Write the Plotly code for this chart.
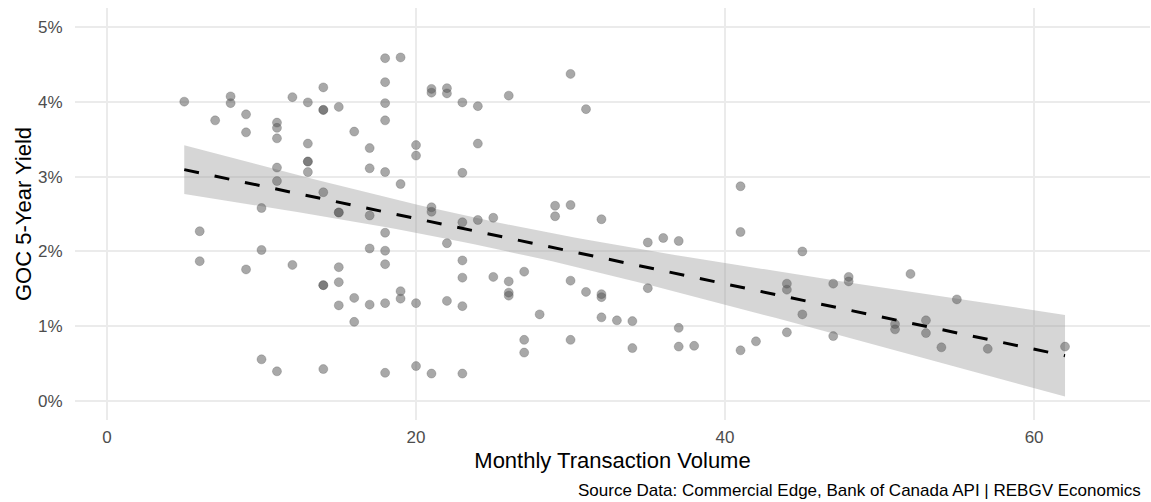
import numpy as np
import plotly.graph_objects as go

# Monthly transaction volume (x) and GOC 5-year yield in percent (y)
volume = [
    5,
    6, 6,
    7,
    8, 8,
    9, 9, 9,
    10, 10, 10,
    11, 11, 11, 11, 11, 11,
    12, 12,
    13, 13, 13, 13, 13,
    14, 14, 14, 14, 14, 14, 14,
    15, 15, 15, 15, 15, 15,
    16, 16, 16,
    17, 17, 17, 17, 17,
    18, 18, 18, 18, 18, 18, 18, 18, 18, 18,
    19, 19, 19, 19,
    20, 20, 20, 20,
    21, 21, 21, 21, 21,
    22, 22, 22, 22,
    23, 23, 23, 23, 23, 23, 23,
    24, 24, 24,
    25, 25,
    26, 26, 26, 26,
    27, 27, 27,
    28,
    29, 29,
    30, 30, 30, 30,
    31, 31,
    32, 32, 32, 32,
    33,
    34, 34,
    35, 35,
    36,
    37, 37, 37,
    38,
    41, 41, 41,
    42,
    44, 44, 44,
    45, 45,
    47, 47,
    48, 48,
    51, 51,
    52,
    53, 53,
    54,
    55,
    57,
    62,
]
yield_pct = [
    4.00,
    2.27, 1.87,
    3.75,
    4.07, 3.98,
    3.83, 3.59, 1.76,
    2.58, 2.02, 0.56,
    3.72, 3.65, 3.51, 3.12, 2.94, 0.40,
    4.06, 1.82,
    3.99, 3.44, 3.20, 3.20, 3.06,
    4.19, 3.89, 3.89, 2.79, 1.55, 1.55, 0.43,
    3.93, 2.52, 2.52, 1.79, 1.59, 1.28,
    3.60, 1.38, 1.06,
    3.38, 3.11, 2.48, 2.04, 1.29,
    4.58, 4.26, 3.98, 3.75, 3.06, 2.25, 2.01, 1.83, 1.31, 0.38,
    4.59, 2.90, 1.47, 1.37,
    3.42, 3.28, 1.31, 0.47,
    4.17, 4.12, 2.59, 2.53, 0.37,
    4.18, 4.11, 2.11, 1.34,
    3.99, 3.05, 2.39, 1.88, 1.65, 1.27, 0.37,
    3.94, 3.44, 2.42,
    2.45, 1.66,
    4.08, 1.60, 1.45, 1.41,
    1.73, 0.82, 0.65,
    1.16,
    2.61, 2.47,
    4.37, 2.62, 1.61, 0.82,
    3.90, 1.46,
    2.43, 1.43, 1.39, 1.12,
    1.08,
    1.07, 0.71,
    2.12, 1.51,
    2.18,
    2.14, 0.98, 0.73,
    0.74,
    2.87, 2.26, 0.68,
    0.80,
    1.57, 1.49, 0.92,
    2.00, 1.16,
    1.57, 0.87,
    1.66, 1.60,
    1.03, 0.96,
    1.70,
    1.08, 0.91,
    0.72,
    1.36,
    0.70,
    0.73,
]

x_ticks = [0, 20, 40, 60]
y_ticks = [0, 1, 2, 3, 4, 5]
y_tick_labels = ["0%", "1%", "2%", "3%", "4%", "5%"]

x_title = "Monthly Transaction Volume"
y_title = "GOC 5-Year Yield"
caption = "Source Data: Commercial Edge, Bank of Canada API | REBGV Economics"

# Ordinary least squares fit with a 95% confidence band
x = np.asarray(volume, dtype=float)
y = np.asarray(yield_pct, dtype=float)
n = len(x)
slope, intercept = np.polyfit(x, y, 1)
resid = y - (intercept + slope * x)
s = np.sqrt(np.sum(resid ** 2) / (n - 2))
sxx = np.sum((x - x.mean()) ** 2)
t_crit = 1.977  # two-sided 95% t quantile for ~140 degrees of freedom
xf = np.linspace(x.min(), x.max(), 80)
yf = intercept + slope * xf
se = s * np.sqrt(1.0 / n + (xf - x.mean()) ** 2 / sxx)
upper = yf + t_crit * se
lower = yf - t_crit * se

FONT = "Liberation Sans, Arial, sans-serif"
GRID = "#ebebeb"

fig = go.Figure()

fig.add_trace(go.Scatter(
    x=list(xf) + list(xf[::-1]),
    y=list(upper) + list(lower[::-1]),
    fill="toself",
    fillcolor="rgba(153,153,153,0.4)",
    line=dict(width=0),
    mode="lines",
    hoverinfo="skip",
    showlegend=False,
))

fig.add_trace(go.Scatter(
    x=volume,
    y=yield_pct,
    mode="markers",
    marker=dict(
        size=9,
        color="rgba(82,82,82,0.5)",
        line=dict(color="rgba(82,82,82,0.35)", width=0.8),
    ),
    showlegend=False,
))

fig.add_trace(go.Scatter(
    x=xf,
    y=yf,
    mode="lines",
    line=dict(color="black", width=3, dash="15px,16px"),
    showlegend=False,
))

fig.update_layout(
    width=1151,
    height=502,
    margin=dict(l=75, r=1, t=8, b=82),
    paper_bgcolor="white",
    plot_bgcolor="white",
    font=dict(family=FONT, color="#4d4d4d", size=17),
    showlegend=False,
    xaxis=dict(
        range=[-2.07, 67.5],
        tickvals=x_ticks,
        showgrid=True,
        gridcolor=GRID,
        gridwidth=2,
        zeroline=False,
        showline=False,
        ticks="outside",
        ticklen=2,
        tickcolor="rgba(0,0,0,0)",
        tickfont=dict(size=17, color="#4d4d4d"),
        title=dict(text=x_title, font=dict(size=22, color="black"), standoff=6),
    ),
    yaxis=dict(
        range=[-0.25, 5.25],
        tickmode="array",
        tickvals=y_ticks,
        ticktext=y_tick_labels,
        showgrid=True,
        gridcolor=GRID,
        gridwidth=2,
        zeroline=False,
        showline=False,
        ticks="outside",
        ticklen=8,
        tickcolor="rgba(0,0,0,0)",
        tickfont=dict(size=17, color="#4d4d4d"),
        title=dict(text=y_title, font=dict(size=22, color="black"), standoff=0),
    ),
    annotations=[dict(
        text=caption,
        xref="paper", yref="paper",
        x=1, y=0,
        xanchor="right", yanchor="middle",
        xshift=-7, yshift=-70,
        showarrow=False,
        font=dict(size=17, color="black", family=FONT),
    )],
)

fig.write_html("out.html")
